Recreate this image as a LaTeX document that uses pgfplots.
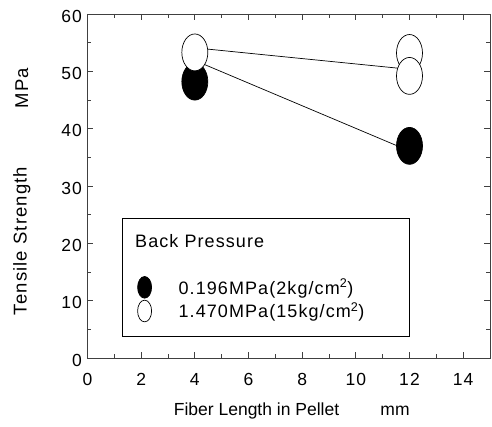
\documentclass[border=0pt]{standalone}
\usepackage{fontspec}
\setmainfont{Liberation Sans}
\newfontfamily\lsfont{Liberation Sans}[LetterSpace=6]
\usepackage{pgfplots}
\pgfplotsset{compat=1.18}
\begin{document}
\begin{tikzpicture}
\useasboundingbox (-87.5pt,-69pt) rectangle (404.5pt,358pt);
\begin{axis}[
  at={(0pt,0pt)}, anchor=south west,
  scale only axis, width=402.5pt, height=344pt,
  xmin=0, xmax=15, ymin=0, ymax=60,
  xtick={0,2,...,14}, ytick={0,10,...,60},
  minor xtick={1,3,...,15}, minor ytick={5,15,...,55},
  tick align=inside,
  major tick length=6pt, minor tick length=4pt,
  tick style={black!75, line width=0.7pt},
  axis line style={black!75, line width=0.9pt},
  tick label style={font=\lsfont\fontsize{17.5}{20}\selectfont},
  xticklabel style={yshift=-12pt},
  yticklabel style={yshift=-2pt, xshift=-2pt},
  /pgf/number format/assume math mode=true,
  clip=false,
  legend style={draw=none, fill=none, at={(axis description cs:0.124,0.171)}, anchor=west,
    font=\lsfont\fontsize{18}{20}\selectfont, row sep=2pt, inner xsep=0pt},
  legend cell align=left,
]
\addplot[black, line width=0.7pt, forget plot] coordinates {(4,54.1) (12,50.35)};
\addplot[black, line width=0.7pt, forget plot] coordinates {(4,51.9) (12,36.1)};
\addplot[only marks, mark=*, mark size=13pt, mark options={yscale=1.42, fill=black, draw=black, line width=0.7pt}, forget plot]
  coordinates {(4,48.2) (12,37.0)};
\addplot[only marks, mark=*, mark size=13pt, mark options={yscale=1.42, fill=white, draw=black, line width=0.7pt}, forget plot]
  coordinates {(4,53.3) (12,53.2) (12,49.2)};
\addlegendimage{only marks, mark=*, mark size=7pt, mark options={yscale=1.55, fill=black, draw=black, line width=0.7pt}}
\addlegendentry{\hspace*{25pt}0.196MPa(2kg/cm\textsuperscript{2})}
\addlegendimage{only marks, mark=*, mark size=7pt, mark options={yscale=1.55, fill=white, draw=black, line width=0.7pt}}
\addlegendentry{\hspace*{25pt}1.470MPa(15kg/cm\textsuperscript{2})}
\draw[black, line width=0.8pt] (axis description cs:0.0857,0.064) rectangle (axis description cs:0.799,0.407);
\node[anchor=west, font=\lsfont\fontsize{18}{20}\selectfont, inner sep=0pt] at (axis description cs:0.118,0.340) {Back Pressure};
\node[rotate=90, font=\lsfont\fontsize{18.5}{20}\selectfont] at (axis description cs:-0.163,0.34) {Tensile Strength};
\node[rotate=90, font=\lsfont\fontsize{18.5}{20}\selectfont] at (axis description cs:-0.163,0.785) {MPa};
\node[font=\fontsize{17.5}{20}\selectfont] at (axis description cs:0.42,-0.154) {Fiber Length in Pellet};
\node[font=\fontsize{17.5}{20}\selectfont] at (axis description cs:0.764,-0.154) {mm};
\end{axis}
\end{tikzpicture}
\end{document}
